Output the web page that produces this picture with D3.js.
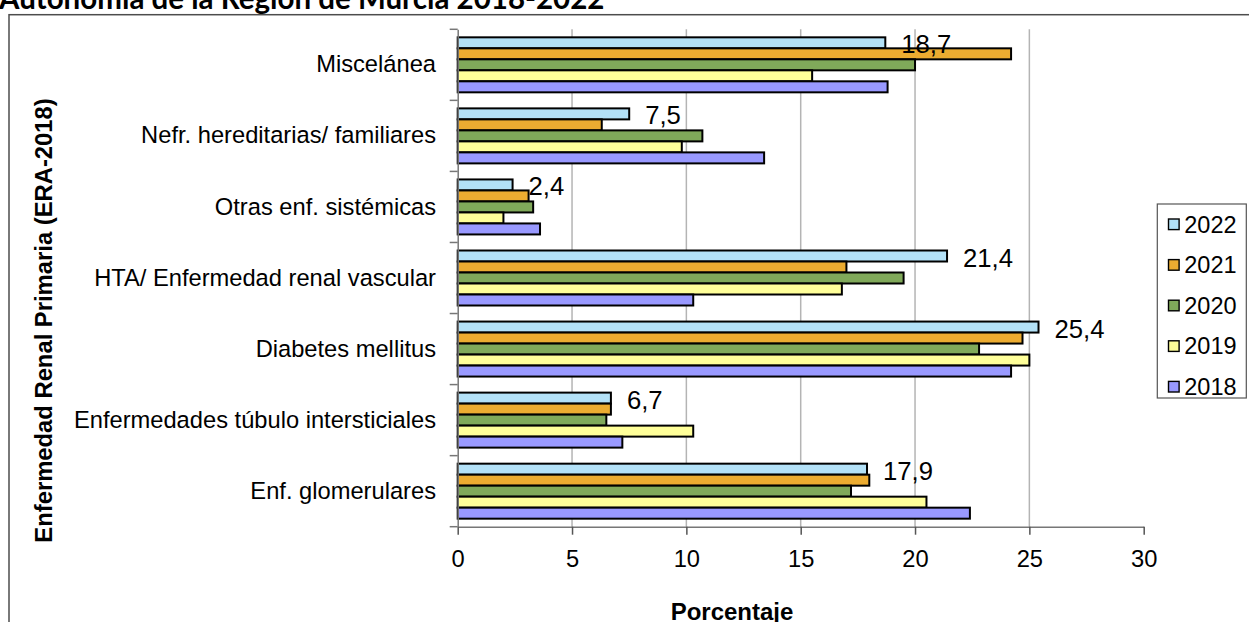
<!DOCTYPE html>
<html>
<head>
<meta charset="utf-8">
<script src="https://cdn.jsdelivr.net/npm/d3@7"></script>
<style>
  html, body { margin: 0; padding: 0; background: #fff; }
  svg { display: block; }
</style>
</head>
<body>
<svg id="chart" width="1249" height="622"></svg>
<script>
// Categories (top to bottom) and yearly percentages per category
const categories = [
  "Miscelánea",
  "Nefr. hereditarias/ familiares",
  "Otras enf. sistémicas",
  "HTA/ Enfermedad renal vascular",
  "Diabetes mellitus",
  "Enfermedades túbulo intersticiales",
  "Enf. glomerulares"
];
const years = ["2022", "2021", "2020", "2019", "2018"];
const values2022 = [18.7, 7.5, 2.4, 21.4, 25.4, 6.7, 17.9];
const values2021 = [24.2, 6.3, 3.1, 17.0, 24.7, 6.7, 18.0];
const values2020 = [20.0, 10.7, 3.3, 19.5, 22.8, 6.5, 17.2];
const values2019 = [15.5, 9.8, 2.0, 16.8, 25.0, 10.3, 20.5];
const values2018 = [18.8, 13.4, 3.6, 10.3, 24.2, 7.2, 22.4];
const xTicks = [0, 5, 10, 15, 20, 25, 30];
const labelledYear = "2022";

const seriesByYear = {
  "2022": values2022, "2021": values2021, "2020": values2020,
  "2019": values2019, "2018": values2018
};
const colors = {
  "2022": "#b3e1f7", "2021": "#ecac31", "2020": "#80a95a",
  "2019": "#ffff99", "2018": "#9999ff"
};

const svg = d3.select("#chart");
const font = "'Liberation Sans', Arial, sans-serif";

// Plot area
const plot = { left: 457.7, right: 1143.7, top: 29.3, bottom: 526.7 };

const x = d3.scaleLinear().domain([0, 30]).range([plot.left, plot.right]);
const y = d3.scaleBand().domain(categories).range([plot.top, plot.bottom])
  .paddingInner(0.226).paddingOuter(0.113);
const yInner = d3.scaleBand().domain(years).range([0, y.bandwidth()]).padding(0);

// Title (partly outside the top edge)
svg.append("text")
  .attr("x", -1).attr("y", 9)
  .attr("font-family", "Lato, 'Open Sans', sans-serif")
  .attr("font-weight", "bold")
  .attr("font-size", 29.5)
  .attr("fill", "#000")
  .text("Autonomía de la Región de Murcia 2018-2022");

// Chart frame
svg.append("rect")
  .attr("x", 9).attr("y", 14.7)
  .attr("width", 1260).attr("height", 640)
  .attr("fill", "#fff").attr("stroke", "#4d4d4d").attr("stroke-width", 1.5);

// Vertical gridlines
svg.append("g")
  .selectAll("line")
  .data(xTicks.filter(t => t > 0 && t < 30))
  .join("line")
  .attr("x1", d => x(d)).attr("x2", d => x(d))
  .attr("y1", plot.top).attr("y2", plot.bottom)
  .attr("stroke", "#b4b4b4").attr("stroke-width", 1.5);

// Bars
const groups = svg.append("g")
  .selectAll("g")
  .data(categories)
  .join("g")
  .attr("transform", d => `translate(0,${y(d)})`);

groups.selectAll("rect")
  .data((c, i) => years.map(yr => ({ year: yr, value: seriesByYear[yr][i] })))
  .join("rect")
  .attr("x", x(0))
  .attr("y", d => yInner(d.year))
  .attr("width", d => x(d.value) - x(0))
  .attr("height", yInner.bandwidth())
  .attr("fill", d => colors[d.year])
  .attr("stroke", "#000")
  .attr("stroke-width", 2);

// Value labels for the latest year
groups.append("text")
  .datum((c, i) => seriesByYear[labelledYear][i])
  .attr("x", d => x(d) + 16)
  .attr("y", yInner(labelledYear) + yInner.bandwidth() / 2 + 10.5)
  .attr("font-family", font)
  .attr("font-size", 25.7)
  .attr("fill", "#000")
  .text(d => d3.format(".1f")(d).replace(".", ","));

// X axis
const xAxis = svg.append("g")
  .attr("transform", `translate(0,${plot.bottom})`)
  .call(d3.axisBottom(x).tickValues(xTicks).tickSize(8).tickSizeOuter(0).tickPadding(15));
xAxis.select(".domain").attr("stroke", "#777").attr("stroke-width", 1.5);
xAxis.selectAll(".tick line").attr("stroke", "#555").attr("stroke-width", 1.5);
xAxis.selectAll(".tick text")
  .attr("font-family", font).attr("font-size", 23.7).attr("fill", "#000");

// Y axis (labels at band centres, ticks on band boundaries)
const yAxis = svg.append("g")
  .attr("transform", `translate(${plot.left},0)`)
  .call(d3.axisLeft(y).tickSize(0).tickPadding(21.7));
yAxis.select(".domain").attr("stroke", "#777").attr("stroke-width", 1.5);
yAxis.selectAll(".tick text")
  .attr("font-family", font).attr("font-size", 23.7).attr("fill", "#000");

const step = y.step();
svg.append("g")
  .selectAll("line")
  .data(d3.range(categories.length + 1))
  .join("line")
  .attr("x1", plot.left - 8).attr("x2", plot.left)
  .attr("y1", i => plot.top + i * step).attr("y2", i => plot.top + i * step)
  .attr("stroke", "#777").attr("stroke-width", 1.5);

// Axis titles
svg.append("text")
  .attr("transform", "translate(52,320.5) rotate(-90)")
  .attr("text-anchor", "middle")
  .attr("font-family", font).attr("font-weight", "bold")
  .attr("font-size", 23.8).attr("fill", "#000")
  .text("Enfermedad Renal Primaria (ERA-2018)");

svg.append("text")
  .attr("x", 732).attr("y", 620)
  .attr("text-anchor", "middle")
  .attr("font-family", font).attr("font-weight", "bold")
  .attr("font-size", 24).attr("fill", "#000")
  .text("Porcentaje");

// Legend
const legend = svg.append("g");
legend.append("rect")
  .attr("x", 1157.3).attr("y", 204)
  .attr("width", 89).attr("height", 194)
  .attr("fill", "#fff").attr("stroke", "#555").attr("stroke-width", 1.2);

const items = legend.selectAll("g.item")
  .data(years)
  .join("g")
  .attr("class", "item")
  .attr("transform", (d, i) => `translate(0,${224.3 + i * 40.6})`);
items.append("rect")
  .attr("x", 1168.5).attr("y", -5.3)
  .attr("width", 10.6).attr("height", 10.6)
  .attr("fill", d => colors[d])
  .attr("stroke", "#000").attr("stroke-width", 1.4);
items.append("text")
  .attr("x", 1184.3).attr("y", 0).attr("dy", "0.35em")
  .attr("font-family", font).attr("font-size", 23.5).attr("fill", "#000")
  .text(d => d);
</script>
</body>
</html>
